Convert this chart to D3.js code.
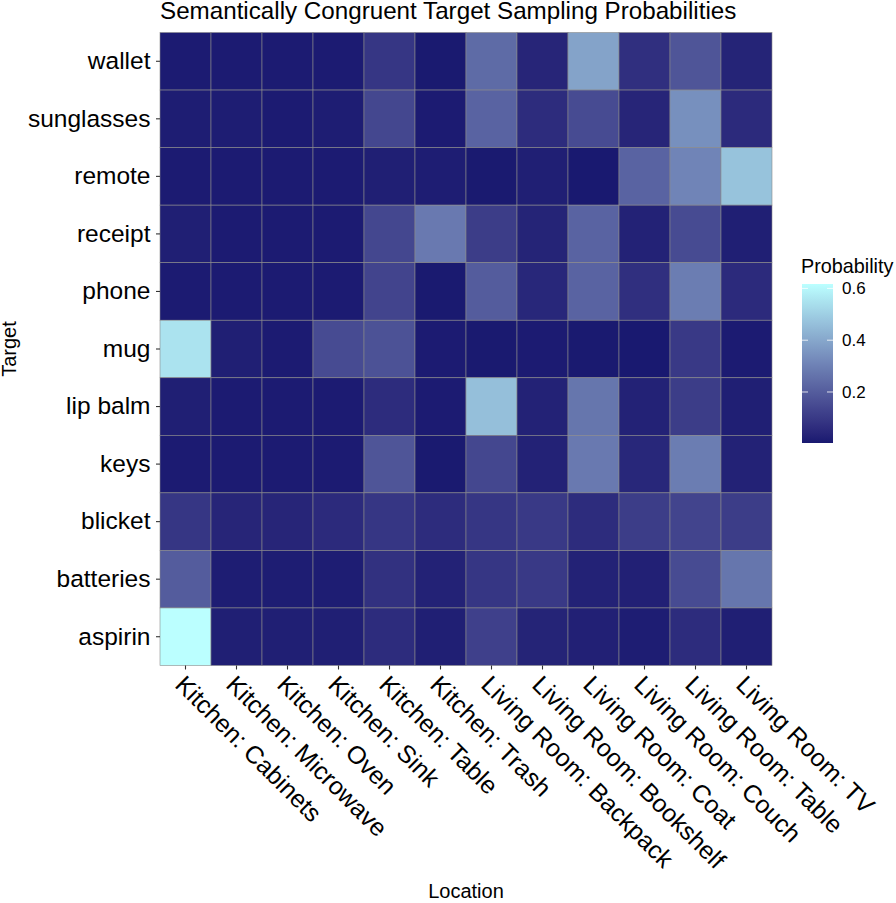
<!DOCTYPE html>
<html>
<head>
<meta charset="utf-8">
<script src="https://cdn.jsdelivr.net/npm/d3@7"></script>
<style>
  body { margin: 0; background: #fff; }
  text { font-family: "Liberation Sans", Arial, sans-serif; }
</style>
</head>
<body>
<div id="heatmap-container"></div>
<script>

// columns (left to right) and rows (top to bottom)
const locations = ["Kitchen: Cabinets", "Kitchen: Microwave", "Kitchen: Oven", "Kitchen: Sink",
  "Kitchen: Table", "Kitchen: Trash", "Living Room: Backpack", "Living Room: Bookshelf",
  "Living Room: Coat", "Living Room: Couch", "Living Room: Table", "Living Room: TV"];

const targets = ["wallet", "sunglasses", "remote", "receipt", "phone", "mug",
  "lip balm", "keys", "blicket", "batteries", "aspirin"];

// probabilities per target, in the same order as locations
const wallet     = [0.010, 0.010, 0.010, 0.010, 0.090, 0.005, 0.240, 0.040, 0.390, 0.070, 0.180, 0.035];
const sunglasses = [0.015, 0.015, 0.010, 0.015, 0.140, 0.010, 0.220, 0.060, 0.150, 0.040, 0.340, 0.055];
const remote     = [0.010, 0.010, 0.010, 0.010, 0.020, 0.015, 0.005, 0.020, 0.004, 0.220, 0.310, 0.470];
const receipt    = [0.020, 0.010, 0.010, 0.010, 0.140, 0.280, 0.110, 0.035, 0.220, 0.030, 0.150, 0.020];
const phone      = [0.010, 0.010, 0.010, 0.010, 0.130, 0.005, 0.200, 0.045, 0.220, 0.070, 0.290, 0.055];
const mug        = [0.550, 0.020, 0.010, 0.150, 0.170, 0.010, 0.005, 0.010, 0.005, 0.003, 0.100, 0.010];
const lipBalm    = [0.020, 0.010, 0.010, 0.010, 0.060, 0.010, 0.460, 0.030, 0.270, 0.030, 0.110, 0.020];
const keys       = [0.010, 0.010, 0.010, 0.010, 0.180, 0.005, 0.140, 0.030, 0.280, 0.045, 0.290, 0.030];
const blicket    = [0.090, 0.040, 0.040, 0.055, 0.090, 0.060, 0.090, 0.100, 0.060, 0.110, 0.130, 0.110];
const batteries  = [0.200, 0.015, 0.015, 0.015, 0.075, 0.030, 0.090, 0.100, 0.030, 0.025, 0.150, 0.270];
const aspirin    = [0.617, 0.020, 0.020, 0.020, 0.060, 0.020, 0.120, 0.035, 0.025, 0.015, 0.060, 0.020];

const rows = [wallet, sunglasses, remote, receipt, phone, mug, lipBalm, keys, blicket, batteries, aspirin];

const legendTicks = [0.2, 0.4, 0.6];

// long format table for the tiles
const cells = [];
targets.forEach((t, i) => {
  locations.forEach((loc, j) => {
    cells.push({ target: t, location: loc, value: rows[i][j] });
  });
});

const WIDTH = 896,
    HEIGHT = 903;

const margin = { top: 32.5, bottom: 237.5, left: 160, right: 124 };

const width = WIDTH - margin.left - margin.right,
    height = HEIGHT - margin.top - margin.bottom;

const svg = d3.select("#heatmap-container")
  .append("svg")
  .attr("width", WIDTH)
  .attr("height", HEIGHT);

const g = svg.append("g")
  .attr("transform", `translate(${margin.left}, ${margin.top})`);

const x = d3.scaleBand().domain(locations).range([0, width]);
const y = d3.scaleBand().domain(targets).range([0, height]);

const extent = d3.extent(cells, d => d.value);

// ggplot style gradient, interpolated in Lab
const fill = d3.scaleLinear()
  .domain(extent)
  .range(["#191970", "#BBFFFF"])
  .interpolate(d3.interpolateLab);

g.selectAll(".tile")
  .data(cells)
  .enter()
    .append("rect")
    .classed("tile", true)
    .attr("x", d => x(d.location))
    .attr("y", d => y(d.target))
    .attr("width", x.bandwidth())
    .attr("height", y.bandwidth())
    .attr("fill", d => fill(d.value))
    .attr("stroke", "#8a8a8a")
    .attr("stroke-width", 0.6);

// x axis
const xAxis = g.append("g")
  .attr("transform", `translate(0, ${height})`)
  .call(d3.axisBottom(x).tickSize(4).tickPadding(0));

xAxis.select(".domain").remove();
xAxis.selectAll(".tick line").attr("stroke", "#333").attr("stroke-width", 1.1);
xAxis.selectAll(".tick text")
  .attr("y", 0)
  .attr("transform", "translate(1, 8) rotate(45)")
  .attr("dy", "0.72em")
  .style("text-anchor", "start")
  .style("font-size", "24.8px")
  .attr("fill", "#000");

// y axis
const yAxis = g.append("g")
  .call(d3.axisLeft(y).tickSize(4).tickPadding(5.5));

yAxis.select(".domain").remove();
yAxis.selectAll(".tick line").attr("stroke", "#333").attr("stroke-width", 1.1);
yAxis.selectAll(".tick text")
  .style("font-size", "24.5px")
  .attr("fill", "#000");

svg.selectAll("g[font-family]").attr("font-family", null).attr("font-size", null);

// title + axis titles
svg.append("text")
  .attr("x", margin.left)
  .attr("y", 19)
  .style("font-size", "24.2px")
  .text("Semantically Congruent Target Sampling Probabilities");

svg.append("text")
  .attr("x", margin.left + width / 2)
  .attr("y", 898)
  .style("text-anchor", "middle")
  .style("font-size", "20px")
  .text("Location");

svg.append("text")
  .attr("transform", `translate(16, ${margin.top + height / 2}) rotate(-90)`)
  .style("text-anchor", "middle")
  .style("font-size", "20px")
  .text("Target");

// colour bar legend
const legend = { x: 802, top: 284, bottom: 443, w: 31 };

const defs = svg.append("defs");
const grad = defs.append("linearGradient")
  .attr("id", "prob-grad")
  .attr("x1", 0).attr("y1", 1)
  .attr("x2", 0).attr("y2", 0);

d3.range(0, 1.0001, 0.05).forEach(t => {
  grad.append("stop")
    .attr("offset", t)
    .attr("stop-color", fill(extent[0] + t * (extent[1] - extent[0])));
});

svg.append("text")
  .attr("x", legend.x - 1)
  .attr("y", 273)
  .style("font-size", "19.8px")
  .text("Probability");

svg.append("rect")
  .attr("x", legend.x)
  .attr("y", legend.top)
  .attr("width", legend.w)
  .attr("height", legend.bottom - legend.top)
  .attr("fill", "url(#prob-grad)");

const ly = d3.scaleLinear().domain(extent).range([legend.bottom, legend.top]);

const lt = svg.selectAll(".legend-tick")
  .data(legendTicks)
  .enter()
    .append("g")
    .classed("legend-tick", true)
    .attr("transform", d => `translate(0, ${ly(d)})`);

lt.append("line")
  .attr("x1", legend.x).attr("x2", legend.x + 6)
  .attr("stroke", "#fff").attr("stroke-opacity", 0.8);
lt.append("line")
  .attr("x1", legend.x + legend.w - 6).attr("x2", legend.x + legend.w)
  .attr("stroke", "#fff").attr("stroke-opacity", 0.8);
lt.append("text")
  .attr("x", legend.x + legend.w + 9)
  .attr("dy", "0.35em")
  .style("font-size", "17px")
  .text(d => d.toFixed(1));

</script>
</body>
</html>
